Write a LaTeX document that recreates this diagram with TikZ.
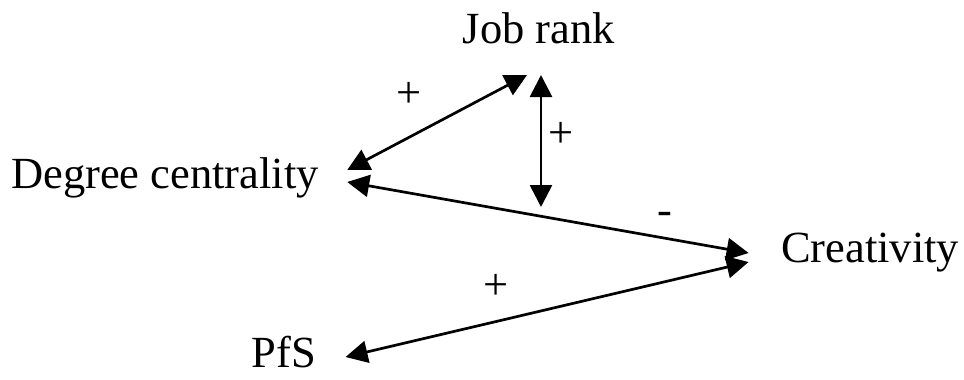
\documentclass[tikz,border=0pt]{standalone}
\usepackage{fontspec}
\setmainfont{Liberation Serif}
\usepackage{tikz}
\usetikzlibrary{arrows.meta}

\tikzset{
  var/.style={inner sep=0pt, anchor=base, font=\fontsize{22.25pt}{26pt}\selectfont},
  sign/.style={inner sep=0pt, font=\fontsize{22.25pt}{26pt}\selectfont},
  twoway/.style={line width=1.35pt, {Triangle[length=11pt,width=11pt]}-{Triangle[length=11pt,width=11pt]}}
}

\begin{document}
\begin{tikzpicture}[x=0.5pt, y=-0.5pt]
\useasboundingbox (0,0) rectangle (964,380);
% variables
\node[var] (jr) at (539,43) {Job rank};
\node[var] (dc) at (165,188) {Degree centrality};
\node[var] (cr) at (870,262) {Creativity};
\node[var] (pfs) at (284,367) {PfS};
\coordinate (jrlow) at ([shift={(2,164)}]jr.base);
% links
\draw[twoway] ([shift={(28,-18)}]dc.base east) -- ([shift={(-12,32)}]jr.base);
\draw[twoway] ([shift={(2,32)}]jr.base) -- (jrlow);
\draw[twoway] ([shift={(28,-6)}]dc.base east) -- ([shift={(-32,-9)}]cr.base west);
\draw[twoway] ([shift={(29,-10)}]pfs.base east) -- ([shift={(-32,0)}]cr.base west);
% signs
\node[sign] (s1) at (409,95) {+};
\node[sign] (s2) at (561,135) {+};
\node[sign] (s3) at (665,218) {-};
\node[sign] (s4) at (496,287) {+};
\end{tikzpicture}
\end{document}
